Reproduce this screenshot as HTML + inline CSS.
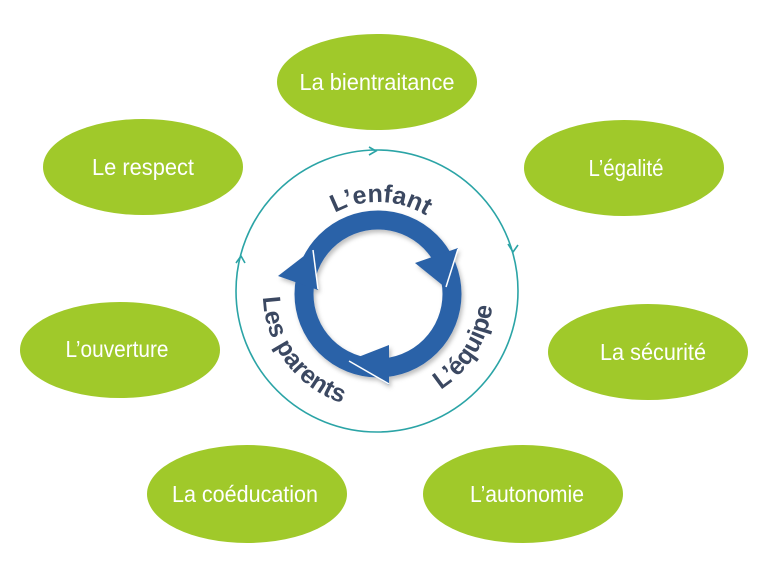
<!DOCTYPE html>
<html><head><meta charset="utf-8"><style>
html,body{margin:0;padding:0;background:#fff;}
svg{display:block}
.g{fill:#a0c92a}
.t{fill:#fff;font-family:"Liberation Sans Narrow","Liberation Sans",sans-serif;font-size:23px;text-anchor:middle}
.b{fill:#3b4861;font-family:"Liberation Sans",sans-serif;font-weight:bold;font-size:25px}
</style></head><body>
<svg width="768" height="577" viewBox="0 0 768 577" xmlns="http://www.w3.org/2000/svg">
<defs>
<path id="pEnf" d="M 286 294 A 92 92 0 0 1 470 294"/>
<path id="pEq" d="M 430 396 A 115 115 0 0 0 493 294"/>
<path id="pPar" d="M 263 294 A 115 115 0 0 0 345 404"/>
<filter id="sh" x="-20%" y="-20%" width="140%" height="140%"><feDropShadow dx="2" dy="3" stdDeviation="2" flood-color="#000" flood-opacity="0.25"/></filter>
</defs>
<circle cx="377" cy="291" r="141" fill="none" stroke="#2ba4a6" stroke-width="1.6"/>
<polyline points="369,147 376,151 369,155" fill="none" stroke="#2ba4a6" stroke-width="1.6"/>
<polyline points="508,244 513,252 518,245" fill="none" stroke="#2ba4a6" stroke-width="1.6"/>
<polyline points="236,263 241,256 245,263" fill="none" stroke="#2ba4a6" stroke-width="1.6"/>
<g filter="url(#sh)">
<circle cx="378" cy="294" r="74" fill="none" stroke="#2c62a8" stroke-width="19"/>
<polygon points="415,263 458,248 446,288" fill="#2c62a8"/>
<polygon points="278,276 313,249 318,290" fill="#2c62a8"/>
<polygon points="348,361 389,345 389,385" fill="#2c62a8"/>
</g>
<line x1="458" y1="249" x2="446" y2="287" stroke="#fff" stroke-width="1.5"/>
<line x1="313" y1="250" x2="318" y2="289" stroke="#fff" stroke-width="1.5"/>
<line x1="349" y1="361" x2="389" y2="384" stroke="#fff" stroke-width="1.5"/>
<text class="b" font-size="27"><textPath href="#pEnf" startOffset="51%" text-anchor="middle">L’enfant</textPath></text>
<text class="b"><textPath href="#pEq" startOffset="50%" text-anchor="middle">L’équipe</textPath></text>
<text class="b"><textPath href="#pPar" startOffset="50%" text-anchor="middle">Les parents</textPath></text>
<ellipse class="g" cx="377" cy="82" rx="100" ry="48"/>
<text class="t" x="377" y="90" textLength="155" lengthAdjust="spacingAndGlyphs">La bientraitance</text>
<ellipse class="g" cx="143" cy="167" rx="100" ry="48"/>
<text class="t" x="143" y="175" textLength="102" lengthAdjust="spacingAndGlyphs">Le respect</text>
<ellipse class="g" cx="624" cy="168" rx="100" ry="48"/>
<text class="t" x="626" y="176" textLength="75" lengthAdjust="spacingAndGlyphs">L’égalité</text>
<ellipse class="g" cx="120" cy="350" rx="100" ry="48"/>
<text class="t" x="117" y="357" textLength="103" lengthAdjust="spacingAndGlyphs">L’ouverture</text>
<ellipse class="g" cx="648" cy="352" rx="100" ry="48"/>
<text class="t" x="653" y="360" textLength="106" lengthAdjust="spacingAndGlyphs">La sécurité</text>
<ellipse class="g" cx="247" cy="494" rx="100" ry="49"/>
<text class="t" x="245" y="502" textLength="146" lengthAdjust="spacingAndGlyphs">La coéducation</text>
<ellipse class="g" cx="523" cy="494" rx="100" ry="49"/>
<text class="t" x="527" y="502" textLength="114" lengthAdjust="spacingAndGlyphs">L’autonomie</text>
</svg>
</body></html>
